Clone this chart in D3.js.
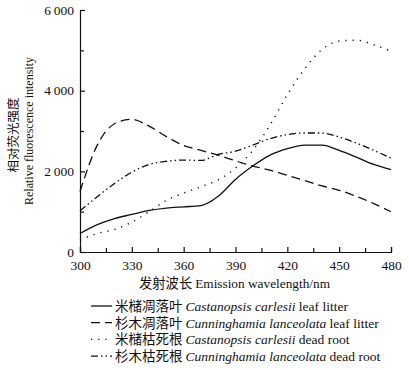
<!DOCTYPE html>
<html>
<head>
<meta charset="utf-8">
<script src="https://cdn.jsdelivr.net/npm/d3@7"></script>
<style>
  body { margin: 0; background: #fff; }
  text { fill: #111; }
</style>
</head>
<body>
<svg width="409" height="370"></svg>
<script>
const wavelengths = [300, 310, 320, 330, 340, 350, 360, 370, 380, 390, 400, 410, 420, 430, 440, 450, 460, 470, 480];
const ccLeaf = [460, 680, 830, 930, 1030, 1090, 1120, 1150, 1380, 1800, 2130, 2400, 2560, 2650, 2650, 2520, 2350, 2170, 2040];
const clLeaf = [1500, 2650, 3180, 3290, 3120, 2860, 2640, 2520, 2400, 2260, 2130, 2030, 1900, 1770, 1640, 1530, 1380, 1200, 1000];
const ccRoot = [300, 460, 560, 740, 1000, 1280, 1460, 1620, 1790, 2080, 2520, 3150, 3900, 4540, 5020, 5230, 5250, 5140, 4980];
const clRoot = [1020, 1370, 1700, 1980, 2170, 2250, 2280, 2270, 2420, 2500, 2650, 2810, 2910, 2950, 2950, 2850, 2700, 2520, 2330];
const xTicks = [300, 330, 360, 390, 420, 450, 480];
const yTicks = [0, 2000, 4000, 6000];

const series = [
  {cn: '米槠凋落叶', sp: 'Castanopsis carlesii', tail: ' leaf litter', values: ccLeaf, dash: null},
  {cn: '杉木凋落叶', sp: 'Cunninghamia lanceolata', tail: ' leaf litter', values: clLeaf, dash: '9,5'},
  {cn: '米槠枯死根', sp: 'Castanopsis carlesii', tail: ' dead root', values: ccRoot, dash: '1.2,6'},
  {cn: '杉木枯死根', sp: 'Cunninghamia lanceolata', tail: ' dead root', values: clRoot, dash: '7,3,1.5,3,1.5,3'}
];

const svg = d3.select('svg');
const serif = '"Liberation Serif", "Times New Roman", serif';
const cjk = '"Noto Sans CJK SC", sans-serif';

const margin = {top: 10, left: 80};
const innerWidth = 311;
const innerHeight = 242;

const xScale = d3.scaleLinear().domain([300, 480]).range([0, innerWidth]);
const yScale = d3.scaleLinear().domain([0, 6000]).range([innerHeight, 0]);

const g = svg.append('g')
    .attr('transform', `translate(${margin.left},${margin.top})`);

// axes, ticks pointing inward
const fmt = d => d === 0 ? '0' : d3.format(',')(d).replace(',', '\u2009');
const yAxis = d3.axisLeft(yScale).tickValues(yTicks).tickSize(-5).tickPadding(7).tickFormat(fmt);
const yAxisG = g.append('g').call(yAxis);
g.append('g').call(d3.axisLeft(yScale).tickValues([1000, 3000, 5000]).tickSize(-4).tickFormat(''))
    .select('path').remove();

const xAxis = d3.axisBottom(xScale).tickValues(xTicks).tickSize(-5).tickPadding(8);
const xAxisG = g.append('g').attr('transform', `translate(0,${innerHeight})`).call(xAxis);
g.append('g').attr('transform', `translate(0,${innerHeight})`)
    .call(d3.axisBottom(xScale).tickValues(d3.range(315, 480, 30)).tickSize(-4).tickFormat(''))
    .select('path').remove();

g.selectAll('.domain').attr('stroke', '#111').attr('stroke-width', 1.2);
g.selectAll('.tick line').attr('stroke', '#111').attr('stroke-width', 1.2);
g.selectAll('.tick text').attr('font-family', serif).attr('font-size', 13.5).attr('fill', '#111');
yAxisG.selectAll('.tick text').attr('dx', 1);

// axis titles
xAxisG.append('text')
    .attr('x', innerWidth / 2 - 1)
    .attr('y', 36)
    .attr('text-anchor', 'middle')
    .attr('font-size', 13.3)
    .call(t => {
      t.append('tspan').attr('font-family', cjk).text('发射波长 ');
      t.append('tspan').attr('font-family', serif).text('Emission wavelength/nm');
    });

g.append('text')
    .attr('transform', `translate(-62,${innerHeight / 2 + 4}) rotate(-90)`)
    .attr('text-anchor', 'middle')
    .attr('font-family', cjk)
    .attr('font-size', 12.5)
    .text('相对荧光强度');
g.append('text')
    .attr('transform', `translate(-47,${innerHeight / 2}) rotate(-90)`)
    .attr('text-anchor', 'middle')
    .attr('font-family', serif)
    .attr('font-size', 12)
    .text('Relative fluorescence intensity');

// lines
const line = d3.line()
    .x((d, i) => xScale(wavelengths[i]))
    .y(d => yScale(d))
    .curve(d3.curveMonotoneX);

g.selectAll('.series').data(series)
  .enter().append('path')
    .attr('class', 'series')
    .attr('d', d => line(d.values))
    .attr('fill', 'none')
    .attr('stroke', '#111')
    .attr('stroke-width', d => d.dash === '1.2,6' ? 1.5 : 1.3)
    .attr('stroke-dasharray', d => d.dash);

// legend
const legend = svg.append('g').attr('transform', 'translate(91,306)');
const rows = legend.selectAll('g').data(series)
  .enter().append('g')
    .attr('transform', (d, i) => `translate(0,${i * 16.7})`);
rows.append('line')
    .attr('x1', 0).attr('x2', 21)
    .attr('stroke', '#111')
    .attr('stroke-width', 1.3)
    .attr('stroke-dasharray', d => d.dash);
rows.append('text')
    .attr('x', 24)
    .attr('y', 5)
    .attr('font-size', 13.5)
    .each(function(d) {
      const t = d3.select(this);
      t.append('tspan').attr('font-family', cjk).text(d.cn + ' ');
      t.append('tspan').attr('font-family', serif).attr('font-style', 'italic').text(d.sp);
      t.append('tspan').attr('font-family', serif).text(d.tail);
    });
</script>
</body>
</html>
